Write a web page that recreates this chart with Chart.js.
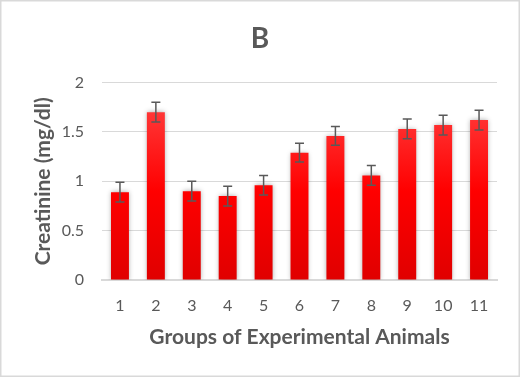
<!DOCTYPE html>
<html>
<head>
<meta charset="utf-8">
<script src="https://cdn.jsdelivr.net/npm/chart.js@4/dist/chart.umd.min.js"></script>
<style>
  html, body { margin: 0; padding: 0; background: #fff; }
  #wrap { width: 520px; height: 377px; position: relative; }
</style>
</head>
<body>
<div id="wrap"><canvas id="chartCreatinine"></canvas></div>
<script>
// DATA
var groups = ['1', '2', '3', '4', '5', '6', '7', '8', '9', '10', '11'];
var creatinine = [0.89, 1.70, 0.90, 0.85, 0.96, 1.29, 1.46, 1.06, 1.53, 1.57, 1.62];
var creatinineErr = [0.10, 0.10, 0.10, 0.10, 0.10, 0.095, 0.095, 0.10, 0.10, 0.10, 0.10];
var yTicks = [0, 0.5, 1, 1.5, 2];

var textColor = '#595959';
var fontFamily = 'Lato, "Open Sans", sans-serif';

// bar fill, light red on top to darker red at the base
function barGradient(context) {
    var area = context.chart.chartArea;
    if (!area) return '#ff0000';
    var g = context.chart.ctx.createLinearGradient(0, area.top, 0, area.bottom);
    g.addColorStop(0, '#ff4a4a');
    g.addColorStop(0.55, '#ff0000');
    g.addColorStop(1, '#e00000');
    return g;
}

// soft shadow round the bars
var barShadow = {
    id: 'barShadow',
    beforeDatasetsDraw: function (chart) {
        var ctx = chart.ctx;
        ctx.save();
        ctx.shadowColor = 'rgba(0,0,0,0.35)';
        ctx.shadowBlur = 5;
        ctx.shadowOffsetX = 0;
        ctx.shadowOffsetY = 0;
    },
    afterDatasetsDraw: function (chart) {
        chart.ctx.restore();
    }
};

// error bars
var errorBars = {
    id: 'errorBars',
    afterDatasetsDraw: function (chart) {
        var ctx = chart.ctx;
        var y = chart.scales.y;
        var meta = chart.getDatasetMeta(0);
        ctx.save();
        ctx.strokeStyle = '#595959';
        ctx.lineWidth = 1.5;
        meta.data.forEach(function (bar, i) {
            var yHi = y.getPixelForValue(creatinine[i] + creatinineErr[i]);
            var yLo = y.getPixelForValue(creatinine[i] - creatinineErr[i]);
            var cap = 4.5;
            ctx.beginPath();
            ctx.moveTo(bar.x, yHi); ctx.lineTo(bar.x, yLo);
            ctx.moveTo(bar.x - cap, yHi); ctx.lineTo(bar.x + cap, yHi);
            ctx.moveTo(bar.x - cap, yLo); ctx.lineTo(bar.x + cap, yLo);
            ctx.stroke();
        });
        ctx.restore();
    }
};

// outer frame
var frame = {
    id: 'frame',
    afterDraw: function (chart) {
        var ctx = chart.ctx;
        ctx.save();
        ctx.strokeStyle = '#d9d9d9';
        ctx.lineWidth = 1.5;
        ctx.strokeRect(0.75, 0.75, chart.width - 1.5, chart.height - 1.5);
        ctx.restore();
    }
};

new Chart(document.getElementById('chartCreatinine'), {
    type: 'bar',
    data: {
        labels: groups,
        datasets: [{
            label: 'Creatinine',
            data: creatinine,
            backgroundColor: barGradient,
            borderWidth: 0,
            barPercentage: 0.5,
            categoryPercentage: 1
        }]
    },
    options: {
        responsive: true,
        maintainAspectRatio: false,
        animation: false,
        layout: { padding: { left: 23, right: 23, top: 0, bottom: 0 } },
        plugins: {
            legend: { display: false },
            tooltip: { enabled: false },
            title: {
                display: true,
                text: 'B',
                color: textColor,
                font: { family: fontFamily, size: 28, weight: 'bold' },
                padding: { top: 22, bottom: 27 }
            }
        },
        scales: {
            x: {
                grid: { display: false, drawTicks: false },
                border: { display: true, color: '#d9d9d9', width: 2 },
                ticks: { color: textColor, font: { family: fontFamily, size: 16 }, padding: 16 },
                title: {
                    display: true,
                    text: 'Groups of Experimental Animals',
                    color: textColor,
                    font: { family: fontFamily, size: 21, weight: 'bold' },
                    padding: { top: 0, bottom: 27 }
                },
                afterFit: function (scale) { scale.height = 97; }
            },
            y: {
                min: 0,
                max: 2,
                afterBuildTicks: function (scale) {
                    scale.ticks = yTicks.map(function (v) { return { value: v }; });
                },
                grid: { color: '#d9d9d9', drawTicks: false },
                border: { display: false },
                ticks: {
                    color: textColor,
                    font: { family: fontFamily, size: 16 },
                    padding: 18,
                    callback: function (v) { return String(v); }
                },
                title: {
                    display: true,
                    text: 'Creatinine (mg/dl)',
                    color: textColor,
                    font: { family: fontFamily, size: 21, weight: 'bold' },
                    padding: { top: 8, bottom: 0 }
                },
                afterFit: function (scale) { scale.width = 79; }
            }
        }
    },
    plugins: [barShadow, errorBars, frame]
});
</script>
</body>
</html>
